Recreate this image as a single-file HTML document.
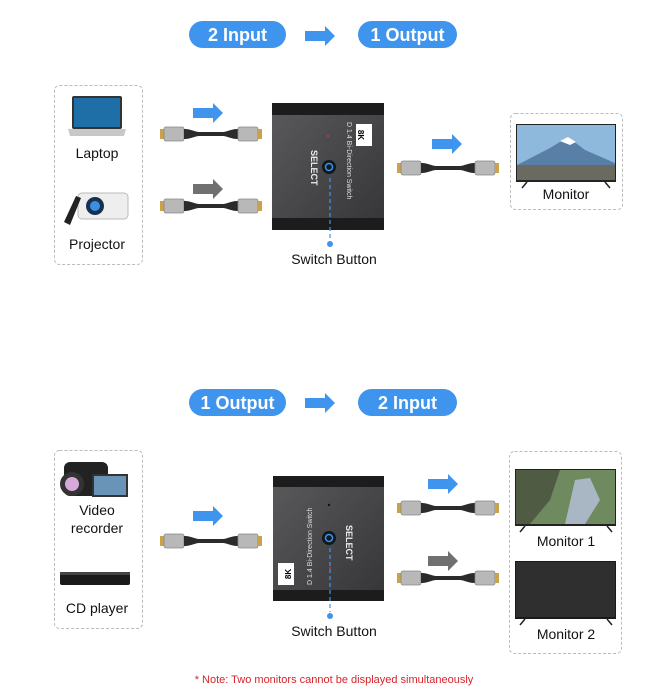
<!DOCTYPE html>
<html><head><meta charset="utf-8"><style>
html,body{margin:0;padding:0;background:#fff;}
svg{display:block;font-family:"Liberation Sans",Arial,sans-serif;}
</style></head><body>
<svg width="672" height="698" viewBox="0 0 672 698" xmlns="http://www.w3.org/2000/svg">
<defs>
<g id="cable">
  <rect x="0" y="-5" width="4" height="10" fill="#c9a24a"/>
  <rect x="4" y="-7" width="20" height="14" rx="2" fill="#b8b8b8" stroke="#888" stroke-width="0.8"/>
  <path d="M24,-5 C32,-5 34,-2 40,-2 L62,-2 C68,-2 70,-5 78,-5 L78,5 C70,5 68,2 62,2 L40,2 C34,2 32,5 24,5Z" fill="#2b2b2b"/>
  <rect x="78" y="-7" width="20" height="14" rx="2" fill="#b8b8b8" stroke="#888" stroke-width="0.8"/>
  <rect x="98" y="-5" width="4" height="10" fill="#c9a24a"/>
</g>
<g id="barrow"><path d="M0,-5 L20,-5 L20,-10 L30,0 L20,10 L20,5 L0,5Z"/></g>
<linearGradient id="sw" x1="0" y1="0" x2="1" y2="1"><stop offset="0" stop-color="#5a5a5c"/><stop offset="1" stop-color="#353537"/></linearGradient>
</defs>

<rect x="189" y="21" width="97" height="27" rx="13.5" fill="#3f95ee"/>
<text x="237.5" y="41" font-size="18" font-weight="bold" fill="#fff" text-anchor="middle">2 Input</text>
<use href="#barrow" x="305" y="36" fill="#3f95ee"/>
<rect x="358" y="21" width="99" height="27" rx="13.5" fill="#3f95ee"/>
<text x="407.5" y="41" font-size="18" font-weight="bold" fill="#fff" text-anchor="middle">1 Output</text>

<rect x="54.5" y="85.5" width="88" height="179" rx="5" fill="none" stroke="#bbb" stroke-dasharray="3,2"/>
<rect x="72" y="96" width="50" height="33" rx="2" fill="#333"/>
<rect x="74" y="98" width="46" height="29" fill="#1e6fa8"/>
<path d="M68,129 L126,129 L124,136 L70,136Z" fill="#c8c8c8"/>
<text x="97" y="158" font-size="14" fill="#111" text-anchor="middle">Laptop</text>
<rect x="78" y="193" width="50" height="26" rx="4" fill="#eee" stroke="#bbb"/>
<circle cx="95" cy="206" r="9" fill="#1a3050"/><circle cx="95" cy="206" r="5" fill="#3b8fe0"/>
<path d="M64,222 L76,196 L81,198 L70,225Z" fill="#222"/>
<text x="97" y="249" font-size="14" fill="#111" text-anchor="middle">Projector</text>

<use href="#barrow" x="193" y="113" fill="#3f95ee"/>
<use href="#cable" x="160" y="134"/>
<use href="#barrow" x="193" y="189" fill="#707070"/>
<use href="#cable" x="160" y="206"/>

<rect x="272" y="103" width="112" height="127" fill="url(#sw)"/>
<rect x="272" y="103" width="112" height="12" fill="#1c1c1c"/>
<rect x="272" y="218" width="112" height="12" fill="#1c1c1c"/>
<rect x="356" y="124" width="16" height="22" fill="#fff"/>
<text x="364" y="141" font-size="8" font-weight="bold" fill="#000" text-anchor="middle" transform="rotate(90 364 135)">8K</text>
<text x="347" y="122" font-size="7" fill="#ddd" transform="rotate(90 347 122)">D 1.4 Bi-Direction Switch</text>
<text x="311" y="150" font-size="9" font-weight="bold" fill="#eee" transform="rotate(90 311 150)">SELECT</text>
<circle cx="328" cy="136" r="1.2" fill="#c33"/>
<circle cx="329" cy="167" r="7" fill="#101820"/>
<circle cx="329" cy="167" r="3.5" fill="none" stroke="#3f95ee" stroke-width="1.5"/>
<line x1="330" y1="178" x2="330" y2="240" stroke="#3f95ee" stroke-width="1.2" stroke-dasharray="4,3"/>
<circle cx="330" cy="244" r="3" fill="#3f95ee"/>
<text x="334" y="264" font-size="14" fill="#111" text-anchor="middle">Switch Button</text>

<use href="#barrow" x="432" y="144" fill="#3f95ee"/>
<use href="#cable" x="397" y="168"/>
<rect x="510.5" y="113.5" width="112" height="96" rx="5" fill="none" stroke="#bbb" stroke-dasharray="3,2"/>
<rect x="516" y="124" width="100" height="58" fill="#222"/>
<rect x="517" y="125" width="98" height="55" fill="#8fb9dc"/>
<path d="M517,165 L550,148 L568,137 L585,150 L615,163 L615,180 L517,180Z" fill="#5a7fa6"/>
<path d="M560,141 L568,137 L576,142 L570,145Z" fill="#fff"/>
<rect x="517" y="165" width="98" height="15" fill="#6a6a60"/>
<path d="M522,188 L527,182 M610,188 L605,182" stroke="#222" stroke-width="1.5"/>
<text x="566" y="199" font-size="14" fill="#111" text-anchor="middle">Monitor</text>

<rect x="189" y="389" width="97" height="27" rx="13.5" fill="#3f95ee"/>
<text x="237.5" y="409" font-size="18" font-weight="bold" fill="#fff" text-anchor="middle">1 Output</text>
<use href="#barrow" x="305" y="403" fill="#3f95ee"/>
<rect x="358" y="389" width="99" height="27" rx="13.5" fill="#3f95ee"/>
<text x="407.5" y="409" font-size="18" font-weight="bold" fill="#fff" text-anchor="middle">2 Input</text>

<rect x="54.5" y="450.5" width="88" height="178" rx="5" fill="none" stroke="#bbb" stroke-dasharray="3,2"/>
<rect x="64" y="462" width="44" height="34" rx="6" fill="#222"/>
<circle cx="72" cy="484" r="12" fill="#333"/><circle cx="72" cy="484" r="7" fill="#d6a9d8"/>
<rect x="92" y="474" width="36" height="23" fill="#333"/><rect x="94" y="476" width="32" height="19" fill="#6a93b8"/>
<text x="97" y="515" font-size="14" fill="#111" text-anchor="middle">Video</text>
<text x="97" y="533" font-size="14" fill="#111" text-anchor="middle">recorder</text>
<rect x="60" y="572" width="70" height="13" rx="2" fill="#1a1a1a"/>
<rect x="60" y="572" width="70" height="3" fill="#444"/>
<text x="97" y="613" font-size="14" fill="#111" text-anchor="middle">CD player</text>

<use href="#barrow" x="193" y="516" fill="#3f95ee"/>
<use href="#cable" x="160" y="541"/>

<rect x="273" y="476" width="111" height="125" fill="url(#sw)"/>
<rect x="273" y="476" width="111" height="11" fill="#1c1c1c"/>
<rect x="273" y="590" width="111" height="11" fill="#1c1c1c"/>
<rect x="278" y="563" width="16" height="22" fill="#fff"/>
<text x="286" y="579" font-size="8" font-weight="bold" fill="#000" text-anchor="middle" transform="rotate(-90 286 574)">8K</text>
<text x="312" y="585" font-size="7" fill="#ddd" transform="rotate(-90 312 585)">D 1.4 Bi-Direction Switch</text>
<text x="346" y="525" font-size="9" font-weight="bold" fill="#eee" transform="rotate(90 346 525)">SELECT</text>
<circle cx="329" cy="505" r="1.2" fill="#111"/>
<circle cx="329" cy="538" r="7" fill="#101820"/>
<circle cx="329" cy="538" r="3.5" fill="none" stroke="#3f95ee" stroke-width="1.5"/>
<circle cx="330" cy="568" r="1" fill="#c33"/>
<line x1="330" y1="548" x2="330" y2="612" stroke="#3f95ee" stroke-width="1.2" stroke-dasharray="4,3"/>
<circle cx="330" cy="616" r="3" fill="#3f95ee"/>
<text x="334" y="636" font-size="14" fill="#111" text-anchor="middle">Switch Button</text>

<use href="#barrow" x="428" y="484" fill="#3f95ee"/>
<use href="#cable" x="397" y="508"/>
<use href="#barrow" x="428" y="561" fill="#707070"/>
<use href="#cable" x="397" y="578"/>
<rect x="509.5" y="451.5" width="112" height="202" rx="5" fill="none" stroke="#bbb" stroke-dasharray="3,2"/>
<rect x="515" y="469" width="101" height="57" fill="#222"/>
<rect x="516" y="470" width="99" height="54" fill="#6f8a5e"/>
<path d="M516,470 L560,470 L550,500 L530,524 L516,524Z" fill="#4f5b42"/>
<path d="M575,480 L590,478 L600,500 L585,524 L565,524Z" fill="#a9b7c4"/>
<path d="M520,532 L525,526 M612,532 L607,526" stroke="#222" stroke-width="1.5"/>
<text x="566" y="546" font-size="14" fill="#111" text-anchor="middle">Monitor 1</text>
<rect x="515" y="561" width="101" height="58" fill="#1a1a1a"/>
<rect x="516" y="562" width="99" height="55" fill="#2f2f2f"/>
<path d="M520,625 L525,619 M612,625 L607,619" stroke="#222" stroke-width="1.5"/>
<text x="566" y="639" font-size="14" fill="#111" text-anchor="middle">Monitor 2</text>

<text x="334" y="683" font-size="11" fill="#d9232b" text-anchor="middle">* Note: Two monitors cannot be displayed simultaneously</text>
</svg>
</body></html>
